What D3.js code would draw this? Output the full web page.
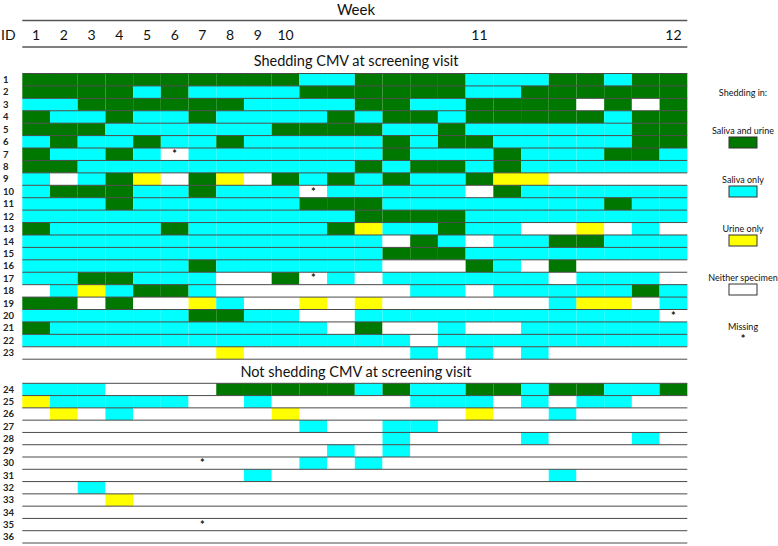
<!DOCTYPE html>
<html>
<head>
<meta charset="utf-8">
<script src="https://cdn.jsdelivr.net/npm/d3@7"></script>
<style>
  body { margin: 0; background: #fff; }
  text { font-family: Lato, "Open Sans", sans-serif; fill: #111; }
</style>
</head>
<body>
<div id="chart"></div>
<script>
// one column per visit, week numbers only on some of them
const weekLabels = ['1', '2', '3', '4', '5', '6', '7', '8', '9', '10',
  '', '', '', '', '', '', '11', '', '', '', '', '', '', '12'];

// G = saliva and urine, C = saliva only, Y = urine only, W = neither, M = missing
const sheddingIds = d3.range(1, 24);
const sheddingRows = [
  'GGGGGGGGGGCCGGGGCCCGGCGG',
  'GGGGCGCCCCGGGGGGCCGGGGGG',
  'CCGGGGGGCCCCGGCCGGGGWGWG',
  'GCCGCCGCCCCGCGGCGGGGGCGG',
  'GGGCCCCCCGGGGCCGCCCCCCGG',
  'CGCCGCCGCCCCCGCGGCCCCCGG',
  'GCCGCMCCCCCCCGCCCGCCCGGC',
  'GGCCCCCCCCCCGCGGCGCCCCCC',
  'CWCGYWGYWGCGCGCCGYYWWWWW',
  'CGGGCCGCCCMCCCCCWGCCCCCC',
  'CCCGCCCCCCGGGCCCCCCCCGCC',
  'CCCCCCCCCCCCGGGGCCCCCCCC',
  'GCCCCGCCCCCGYCCGCCWWYWCW',
  'CCCCCCCCCCCCCWGCWCCGGCCC',
  'CCCCCCCCCCCCCGGGCCCCCCCC',
  'CCCCCCGCCCCCCWWWGCWGWWWW',
  'CCGGCCCWWGMCWCCCCCCWCCCW',
  'WCYCGGCWWWWWWWCCWCCCCCGC',
  'GGWGWWYCWWYWYWWWWWWCYYWC',
  'CCCCCCGGCCWWCCCCCCCCCCCM',
  'GCCCCCCCCCCWGWWCWWCCCCCC',
  'CCCCCCCCCCCCCCWCCCCCCCCC',
  'WWWWWWWYWWWWWWCWCWCWWWWW'
];

const notSheddingIds = d3.range(24, 37);
const notSheddingRows = [
  'CCCWWWWGGGGGCGCCGGCGGCCG',
  'YCCCCCWWCWWWWWCCCWCWCCWW',
  'WYWCWWWWWYWWWWWWYWWCWWWW',
  'WWWWWWWWWWCWWCCWWWWWWWWW',
  'WWWWWWWWWWWWWCWWWWCWWWCW',
  'WWWWWWWWWWWCWCWWWWWWWWWW',
  'WWWWWWMWWWCWCWWWWWWWWWWW',
  'WWWWWWWWCWWWWWWWWWWCWWWW',
  'WWCWWWWWWWWWWWWWWWWWWWWW',
  'WWWYWWWWWWWWWWWWWWWWWWWW',
  'WWWWWWWWWWWWWWWWWWWWWWWW',
  'WWWWWWMWWWWWWWWWWWWWWWWW',
  'WWWWWWWWWWWWWWWWWWWWWWWW'
];

const legendCodes = ['G', 'C', 'Y', 'W', 'M'];
const legendLabels = ['Saliva and urine', 'Saliva only', 'Urine only', 'Neither specimen', 'Missing'];

const colors = { G: '#007800', C: '#00ffff', Y: '#ffff00', W: '#ffffff', M: '#ffffff' };

const width = 778;
const height = 546;

const svg = d3.select('#chart')
  .append('svg')
  .attr('width', width)
  .attr('height', height);

const x = d3.scaleBand()
  .domain(d3.range(1, 25))
  .range([22.3, 687.3]);

const yTop = d3.scaleBand()
  .domain(sheddingIds)
  .range([73.5, 359.2]);

const yBottom = d3.scaleBand()
  .domain(notSheddingIds)
  .range([383.3, 543]);

// header
svg.append('text')
  .attr('x', 356)
  .attr('y', 14.5)
  .attr('text-anchor', 'middle')
  .style('font-size', '15px')
  .text('Week');

svg.append('line')
  .attr('x1', x.range()[0]).attr('x2', x.range()[1])
  .attr('y1', 20.5).attr('y2', 20.5)
  .attr('stroke', '#555').attr('stroke-width', 1.5);

svg.append('line')
  .attr('x1', x.range()[0]).attr('x2', x.range()[1])
  .attr('y1', 47).attr('y2', 47)
  .attr('stroke', '#555').attr('stroke-width', 1.5);

svg.append('text')
  .attr('x', 1)
  .attr('y', 40)
  .style('font-size', '14px')
  .text('ID');

const weekAxis = svg.append('g')
  .attr('transform', 'translate(0, 40)')
  .call(d3.axisTop(x).tickSize(0).tickPadding(0).tickFormat((d) => weekLabels[d - 1]));

weekAxis.select('.domain').remove();
weekAxis.selectAll('text')
  .attr('dy', 0)
  .style('font-family', 'Lato, sans-serif')
  .style('font-size', '14px')
  .style('fill', '#111');

// section titles
svg.append('text')
  .attr('x', 356)
  .attr('y', 66)
  .attr('text-anchor', 'middle')
  .style('font-size', '14.5px')
  .text('Shedding CMV at screening visit');

svg.append('text')
  .attr('x', 356)
  .attr('y', 377)
  .attr('text-anchor', 'middle')
  .style('font-size', '14.5px')
  .text('Not shedding CMV at screening visit');

function drawSection(ids, rows, y, cls) {
  const g = svg.append('g').attr('class', cls);

  const cells = ids.flatMap((id, i) =>
    rows[i].split('').map((code, j) => ({ id, col: j + 1, code }))
  );

  g.append('g')
    .selectAll('rect')
    .data(cells)
    .join('rect')
    .attr('x', (d) => x(d.col))
    .attr('y', (d) => y(d.id))
    .attr('width', x.bandwidth())
    .attr('height', y.bandwidth())
    .attr('fill', (d) => colors[d.code]);

  // row rules
  const edges = ids.map((id) => y(id)).concat([y(ids[ids.length - 1]) + y.bandwidth()]);
  g.append('g')
    .selectAll('line')
    .data(edges)
    .join('line')
    .attr('x1', x.range()[0])
    .attr('x2', x.range()[1])
    .attr('y1', (d) => d)
    .attr('y2', (d) => d)
    .attr('stroke', '#4a4a4a')
    .attr('stroke-width', 1);

  g.append('g')
    .selectAll('text')
    .data(cells.filter((d) => d.code === 'M'))
    .join('text')
    .attr('x', (d) => x(d.col) + x.bandwidth() / 2)
    .attr('y', (d) => y(d.id) + y.bandwidth() / 2 + 4)
    .attr('text-anchor', 'middle')
    .style('font-size', '11px')
    .style('font-weight', 'bold')
    .text('*');

  g.append('g')
    .selectAll('text')
    .data(ids)
    .join('text')
    .attr('x', 3)
    .attr('y', (d) => y(d) + y.bandwidth() / 2)
    .attr('dy', '0.35em')
    .style('font-size', '9.5px')
    .style('font-weight', 'bold')
    .style('fill', '#222')
    .text((d) => d);
}

drawSection(sheddingIds, sheddingRows, yTop, 'shedding');
drawSection(notSheddingIds, notSheddingRows, yBottom, 'not-shedding');

// legend
const legendX = 743;
const legend = svg.append('g').attr('class', 'legend');

legend.append('text')
  .attr('x', legendX)
  .attr('y', 96)
  .attr('text-anchor', 'middle')
  .style('font-size', '9px')
  .text('Shedding in:');

const legendItems = legend.selectAll('g.item')
  .data(legendCodes.map((code, i) => ({ code, label: legendLabels[i], i })))
  .join('g')
  .attr('class', 'item')
  .attr('transform', (d) => `translate(${legendX}, ${134 + d.i * 49})`);

legendItems.append('text')
  .attr('y', 0)
  .attr('text-anchor', 'middle')
  .style('font-size', '9px')
  .text((d) => d.label);

legendItems.filter((d) => d.code !== 'M')
  .append('rect')
  .attr('x', -14)
  .attr('y', 3)
  .attr('width', 28)
  .attr('height', 11)
  .attr('fill', (d) => colors[d.code])
  .attr('stroke', '#333')
  .attr('stroke-width', 1);

legendItems.filter((d) => d.code === 'M')
  .append('text')
  .attr('y', 13)
  .attr('text-anchor', 'middle')
  .style('font-size', '11px')
  .style('font-weight', 'bold')
  .text('*');
</script>
</body>
</html>
